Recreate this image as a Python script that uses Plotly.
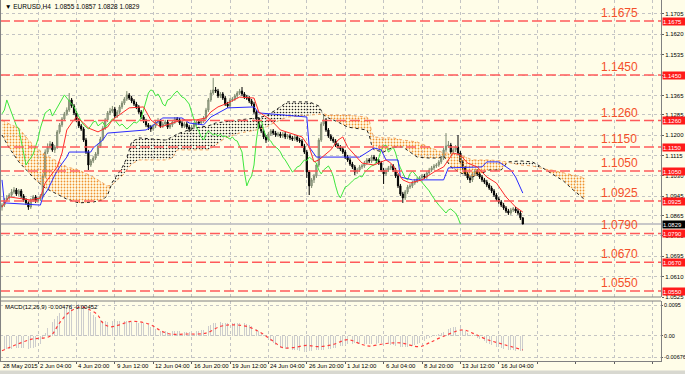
import plotly.graph_objects as go

# ---------------- DATA ----------------
opens = [1.0900, 1.0908, 1.0929, 1.0938, 1.0950, 1.0963, 1.0971, 1.0954, 1.0967, 1.0946,
         1.0929, 1.0917, 1.0900, 1.0929, 1.0942, 1.0925, 1.0933, 1.0946, 1.1029, 1.1129,
         1.1150, 1.1163, 1.1138, 1.1150, 1.1213, 1.1242, 1.1267, 1.1288, 1.1304, 1.1346,
         1.1321, 1.1292, 1.1263, 1.1238, 1.1225, 1.1179, 1.1129, 1.1075, 1.1092, 1.1104,
         1.1121, 1.1154, 1.1183, 1.1229, 1.1263, 1.1292, 1.1300, 1.1308, 1.1279, 1.1296,
         1.1317, 1.1333, 1.1350, 1.1367, 1.1354, 1.1342, 1.1329, 1.1317, 1.1296, 1.1275,
         1.1258, 1.1242, 1.1233, 1.1225, 1.1238, 1.1254, 1.1258, 1.1238, 1.1246, 1.1254,
         1.1233, 1.1242, 1.1254, 1.1267, 1.1263, 1.1250, 1.1238, 1.1246, 1.1233, 1.1225,
         1.1233, 1.1246, 1.1254, 1.1250, 1.1258, 1.1271, 1.1304, 1.1346, 1.1375, 1.1388,
         1.1383, 1.1363, 1.1371, 1.1354, 1.1329, 1.1321, 1.1346, 1.1350, 1.1363, 1.1375,
         1.1383, 1.1371, 1.1358, 1.1354, 1.1342, 1.1329, 1.1296, 1.1267, 1.1233, 1.1217,
         1.1192, 1.1179, 1.1204, 1.1217, 1.1208, 1.1200, 1.1204, 1.1196, 1.1204, 1.1192,
         1.1196, 1.1188, 1.1183, 1.1192, 1.1179, 1.1175, 1.1154, 1.1129, 1.1046, 1.0988,
         1.1013, 1.1029, 1.1075, 1.1179, 1.1246, 1.1263, 1.1221, 1.1196, 1.1183, 1.1175,
         1.1158, 1.1150, 1.1142, 1.1129, 1.1108, 1.1096, 1.1079, 1.1067, 1.1046, 1.1054,
         1.1067, 1.1071, 1.1083, 1.1096, 1.1092, 1.1108, 1.1100, 1.1092, 1.1083, 1.1054,
         1.1038, 1.1054, 1.1063, 1.1071, 1.1054, 1.1029, 1.0988, 1.0954, 1.0938, 1.0963,
         1.0983, 1.0988, 1.1000, 1.1008, 1.1017, 1.1021, 1.1029, 1.1025, 1.1042, 1.1054,
         1.1063, 1.1071, 1.1075, 1.1088, 1.1104, 1.1138, 1.1154, 1.1158, 1.1129, 1.1138,
         1.1150, 1.1125, 1.1088, 1.1063, 1.1038, 1.1021, 1.1013, 1.1038, 1.1050, 1.1038,
         1.1025, 1.1013, 1.1004, 1.0992, 1.0979, 1.0967, 1.0950, 1.0933, 1.0921, 1.0908,
         1.0896, 1.0883, 1.0875, 1.0888, 1.0892, 1.0883, 1.0875, 1.0855]

highs = [1.0916, 1.0937, 1.0950, 1.0958, 1.0975, 1.0983, 1.0979, 1.0975, 1.0975, 1.0954,
         1.0937, 1.0925, 1.0937, 1.0950, 1.0950, 1.0941, 1.0954, 1.1040, 1.1140, 1.1165,
         1.1175, 1.1171, 1.1158, 1.1221, 1.1250, 1.1275, 1.1296, 1.1315, 1.1375, 1.1354,
         1.1329, 1.1300, 1.1271, 1.1246, 1.1233, 1.1188, 1.1138, 1.1100, 1.1113, 1.1129,
         1.1163, 1.1192, 1.1238, 1.1271, 1.1300, 1.1313, 1.1321, 1.1317, 1.1304, 1.1325,
         1.1342, 1.1358, 1.1383, 1.1375, 1.1363, 1.1350, 1.1338, 1.1325, 1.1304, 1.1283,
         1.1267, 1.1250, 1.1242, 1.1246, 1.1263, 1.1271, 1.1267, 1.1254, 1.1263, 1.1263,
         1.1250, 1.1263, 1.1275, 1.1275, 1.1271, 1.1258, 1.1254, 1.1254, 1.1242, 1.1242,
         1.1254, 1.1263, 1.1263, 1.1267, 1.1279, 1.1313, 1.1354, 1.1388, 1.1438, 1.1400,
         1.1392, 1.1379, 1.1379, 1.1363, 1.1338, 1.1354, 1.1358, 1.1371, 1.1383, 1.1392,
         1.1400, 1.1379, 1.1367, 1.1363, 1.1350, 1.1338, 1.1304, 1.1275, 1.1242, 1.1225,
         1.1200, 1.1213, 1.1225, 1.1225, 1.1217, 1.1213, 1.1213, 1.1213, 1.1213, 1.1204,
         1.1204, 1.1196, 1.1200, 1.1200, 1.1188, 1.1183, 1.1163, 1.1138, 1.1054, 1.1021,
         1.1038, 1.1083, 1.1188, 1.1254, 1.1283, 1.1271, 1.1229, 1.1204, 1.1192, 1.1183,
         1.1167, 1.1158, 1.1150, 1.1138, 1.1117, 1.1104, 1.1088, 1.1075, 1.1063, 1.1075,
         1.1079, 1.1092, 1.1104, 1.1104, 1.1117, 1.1117, 1.1108, 1.1100, 1.1092, 1.1063,
         1.1063, 1.1071, 1.1079, 1.1079, 1.1063, 1.1038, 1.0996, 1.0963, 1.0971, 1.0992,
         1.0996, 1.1008, 1.1017, 1.1025, 1.1029, 1.1038, 1.1038, 1.1050, 1.1063, 1.1071,
         1.1079, 1.1083, 1.1096, 1.1113, 1.1146, 1.1208, 1.1175, 1.1167, 1.1146, 1.1158,
         1.1200, 1.1133, 1.1096, 1.1071, 1.1046, 1.1029, 1.1046, 1.1058, 1.1058, 1.1046,
         1.1033, 1.1021, 1.1013, 1.1000, 1.0988, 1.0975, 1.0958, 1.0942, 1.0929, 1.0917,
         1.0904, 1.0892, 1.0896, 1.0900, 1.0900, 1.0892, 1.0883, 1.0857]

lows = [1.0885, 1.0900, 1.0921, 1.0930, 1.0942, 1.0955, 1.0946, 1.0946, 1.0938, 1.0921,
        1.0909, 1.0888, 1.0892, 1.0921, 1.0917, 1.0917, 1.0925, 1.0938, 1.1021, 1.1121,
        1.1140, 1.1130, 1.1125, 1.1142, 1.1205, 1.1233, 1.1258, 1.1280, 1.1296, 1.1313,
        1.1283, 1.1254, 1.1229, 1.1217, 1.1171, 1.1121, 1.1054, 1.1067, 1.1083, 1.1096,
        1.1113, 1.1146, 1.1175, 1.1221, 1.1254, 1.1283, 1.1292, 1.1271, 1.1271, 1.1288,
        1.1308, 1.1325, 1.1342, 1.1346, 1.1333, 1.1321, 1.1308, 1.1288, 1.1267, 1.1250,
        1.1233, 1.1221, 1.1213, 1.1217, 1.1229, 1.1246, 1.1229, 1.1229, 1.1238, 1.1225,
        1.1225, 1.1233, 1.1246, 1.1254, 1.1242, 1.1229, 1.1229, 1.1225, 1.1213, 1.1217,
        1.1225, 1.1238, 1.1242, 1.1242, 1.1250, 1.1263, 1.1296, 1.1338, 1.1367, 1.1375,
        1.1354, 1.1354, 1.1346, 1.1321, 1.1313, 1.1313, 1.1338, 1.1342, 1.1354, 1.1367,
        1.1363, 1.1350, 1.1346, 1.1333, 1.1321, 1.1288, 1.1258, 1.1225, 1.1208, 1.1183,
        1.1167, 1.1171, 1.1196, 1.1200, 1.1192, 1.1192, 1.1188, 1.1188, 1.1183, 1.1183,
        1.1179, 1.1175, 1.1175, 1.1171, 1.1167, 1.1146, 1.1121, 1.1021, 1.0950, 1.0979,
        1.1000, 1.1021, 1.1067, 1.1171, 1.1238, 1.1213, 1.1188, 1.1175, 1.1167, 1.1150,
        1.1142, 1.1133, 1.1121, 1.1100, 1.1088, 1.1071, 1.1058, 1.1033, 1.1038, 1.1046,
        1.1058, 1.1063, 1.1075, 1.1083, 1.1083, 1.1092, 1.1083, 1.1075, 1.1046, 1.0996,
        1.1029, 1.1046, 1.1054, 1.1046, 1.1021, 1.0979, 1.0946, 1.0917, 1.0929, 1.0954,
        1.0975, 1.0979, 1.0992, 1.1000, 1.1008, 1.1013, 1.1017, 1.1017, 1.1033, 1.1046,
        1.1054, 1.1063, 1.1067, 1.1079, 1.1096, 1.1129, 1.1146, 1.1121, 1.1121, 1.1129,
        1.1117, 1.1079, 1.1054, 1.1029, 1.1013, 1.1000, 1.1004, 1.1029, 1.1029, 1.1017,
        1.1004, 1.0996, 1.0983, 1.0971, 1.0958, 1.0942, 1.0925, 1.0913, 1.0900, 1.0888,
        1.0875, 1.0867, 1.0867, 1.0879, 1.0875, 1.0867, 1.0846, 1.0828]

closes = [1.0908, 1.0929, 1.0938, 1.0950, 1.0963, 1.0971, 1.0954, 1.0967, 1.0946, 1.0929,
          1.0917, 1.0900, 1.0929, 1.0942, 1.0925, 1.0933, 1.0946, 1.1029, 1.1129, 1.1150,
          1.1163, 1.1138, 1.1150, 1.1213, 1.1242, 1.1267, 1.1288, 1.1304, 1.1346, 1.1321,
          1.1292, 1.1263, 1.1238, 1.1225, 1.1179, 1.1129, 1.1075, 1.1092, 1.1104, 1.1121,
          1.1154, 1.1183, 1.1229, 1.1263, 1.1292, 1.1300, 1.1308, 1.1279, 1.1296, 1.1317,
          1.1333, 1.1350, 1.1367, 1.1354, 1.1342, 1.1329, 1.1317, 1.1296, 1.1275, 1.1258,
          1.1242, 1.1233, 1.1225, 1.1238, 1.1254, 1.1258, 1.1238, 1.1246, 1.1254, 1.1233,
          1.1242, 1.1254, 1.1267, 1.1263, 1.1250, 1.1238, 1.1246, 1.1233, 1.1225, 1.1233,
          1.1246, 1.1254, 1.1250, 1.1258, 1.1271, 1.1304, 1.1346, 1.1375, 1.1388, 1.1383,
          1.1363, 1.1371, 1.1354, 1.1329, 1.1321, 1.1346, 1.1350, 1.1363, 1.1375, 1.1383,
          1.1371, 1.1358, 1.1354, 1.1342, 1.1329, 1.1296, 1.1267, 1.1233, 1.1217, 1.1192,
          1.1179, 1.1204, 1.1217, 1.1208, 1.1200, 1.1204, 1.1196, 1.1204, 1.1192, 1.1196,
          1.1188, 1.1183, 1.1192, 1.1179, 1.1175, 1.1154, 1.1129, 1.1046, 1.0988, 1.1013,
          1.1029, 1.1075, 1.1179, 1.1246, 1.1263, 1.1221, 1.1196, 1.1183, 1.1175, 1.1158,
          1.1150, 1.1142, 1.1129, 1.1108, 1.1096, 1.1079, 1.1067, 1.1046, 1.1054, 1.1067,
          1.1071, 1.1083, 1.1096, 1.1092, 1.1108, 1.1100, 1.1092, 1.1083, 1.1054, 1.1038,
          1.1054, 1.1063, 1.1071, 1.1054, 1.1029, 1.0988, 1.0954, 1.0938, 1.0963, 1.0983,
          1.0988, 1.1000, 1.1008, 1.1017, 1.1021, 1.1029, 1.1025, 1.1042, 1.1054, 1.1063,
          1.1071, 1.1075, 1.1088, 1.1104, 1.1138, 1.1154, 1.1158, 1.1129, 1.1138, 1.1150,
          1.1125, 1.1088, 1.1063, 1.1038, 1.1021, 1.1013, 1.1038, 1.1050, 1.1038, 1.1025,
          1.1013, 1.1004, 1.0992, 1.0979, 1.0967, 1.0950, 1.0933, 1.0921, 1.0908, 1.0896,
          1.0883, 1.0875, 1.0888, 1.0892, 1.0883, 1.0875, 1.0855, 1.0829]

# Ichimoku lines (bar index, price)
tenkan_x = [0, 3, 12, 16, 18, 19, 23, 25, 27, 29, 31, 34, 36, 40, 44, 46, 50, 53, 59, 62,
            66, 71, 75, 81, 85, 87, 90, 94, 99, 105, 107, 112, 116, 120, 125, 128, 130, 132,
            137, 140, 142, 144, 148, 150, 155, 157, 160, 162, 167, 170, 175, 180, 184, 186,
            188, 191, 194, 198, 202, 206, 210, 214, 217]
tenkan_y = [1.0900, 1.0942, 1.0929, 1.0938, 1.1000, 1.1013, 1.1067, 1.1125, 1.1221, 1.1250,
            1.1275, 1.1250, 1.1229, 1.1213, 1.1233, 1.1263, 1.1292, 1.1313, 1.1317, 1.1263,
            1.1233, 1.1250, 1.1263, 1.1263, 1.1271, 1.1296, 1.1317, 1.1333, 1.1358, 1.1354,
            1.1296, 1.1263, 1.1221, 1.1208, 1.1192, 1.1150, 1.1088, 1.1096, 1.1138, 1.1179,
            1.1192, 1.1150, 1.1108, 1.1083, 1.1075, 1.1083, 1.1096, 1.1083, 1.1013, 1.1000,
            1.1013, 1.1046, 1.1067, 1.1096, 1.1125, 1.1117, 1.1083, 1.1067, 1.1025, 1.1000,
            1.0942, 1.0900, 1.0879]

kijun_x = [0, 1, 16, 17, 19, 22, 24, 27, 28, 37, 38, 42, 44, 52, 60, 62, 67, 75, 78, 84,
           87, 94, 105, 107, 127, 128, 131, 149, 155, 158, 160, 165, 166, 171, 184, 186,
           200, 202, 207, 212, 214, 217]
kijun_y = [1.1013, 1.0917, 1.0908, 1.0942, 1.0971, 1.1033, 1.1067, 1.1108, 1.1129, 1.1129,
           1.1146, 1.1179, 1.1208, 1.1213, 1.1221, 1.1233, 1.1271, 1.1271, 1.1250, 1.1242,
           1.1275, 1.1313, 1.1317, 1.1292, 1.1275, 1.1150, 1.1108, 1.1108, 1.1146, 1.1138,
           1.1096, 1.1096, 1.1025, 1.1013, 1.1013, 1.1063, 1.1067, 1.1088, 1.1088, 1.1054,
           1.1025, 1.0958]

chikou_shift = 26

cloud_x = [0, 3, 7, 11, 14, 18, 22, 27, 32, 38, 42, 44, 46, 48, 50, 52, 54, 57, 62, 68,
           71, 73, 80, 86, 89, 93, 99, 106, 110, 114, 119, 128, 132, 134, 136, 140, 144,
           152, 153, 154, 155, 159, 163, 167, 173, 178, 182, 184, 187, 191, 196, 203, 208,
           210, 211, 216, 221, 224, 226, 229, 234, 238, 243]
span_a = [1.1263, 1.1246, 1.1229, 1.1179, 1.1150, 1.1117, 1.1096, 1.1067, 1.1054, 1.1025,
          1.1000, 1.0988, 1.0992, 1.1013, 1.1029, 1.1054, 1.1079, 1.1096, 1.1096, 1.1096,
          1.1104, 1.1138, 1.1138, 1.1138, 1.1158, 1.1188, 1.1208, 1.1221, 1.1233, 1.1254,
          1.1275, 1.1283, 1.1288, 1.1288, 1.1283, 1.1283, 1.1283, 1.1275, 1.1263, 1.1213,
          1.1192, 1.1188, 1.1188, 1.1179, 1.1171, 1.1150, 1.1133, 1.1125, 1.1125, 1.1117,
          1.1096, 1.1096, 1.1092, 1.1088, 1.1083, 1.1075, 1.1071, 1.1063, 1.1058, 1.1054,
          1.1042, 1.1033, 1.1021]
span_b = [1.1200, 1.1146, 1.1088, 1.1046, 1.1013, 1.0979, 1.0958, 1.0933, 1.0917, 1.0921,
          1.0929, 1.0950, 1.1004, 1.1033, 1.1063, 1.1104, 1.1171, 1.1188, 1.1183, 1.1179,
          1.1192, 1.1204, 1.1229, 1.1238, 1.1250, 1.1254, 1.1263, 1.1271, 1.1279, 1.1304,
          1.1338, 1.1338, 1.1321, 1.1283, 1.1271, 1.1254, 1.1233, 1.1221, 1.1200, 1.1158,
          1.1138, 1.1129, 1.1150, 1.1150, 1.1108, 1.1104, 1.1104, 1.1113, 1.1067, 1.1042,
          1.1025, 1.1054, 1.1054, 1.1079, 1.1088, 1.1092, 1.1088, 1.1071, 1.1058, 1.1042,
          1.1008, 1.0971, 1.0929]

# horizontal levels
levels = [1.1675, 1.1450, 1.1260, 1.1150, 1.1050, 1.0925, 1.0790, 1.0670, 1.0550]
level_text = ["1.1675", "1.1450", "1.1260", "1.1150", "1.1050", "1.0925", "1.0790", "1.0670", "1.0550"]
bid_price = 1.0829

# price axis ticks
price_ticks = [1.1705, 1.1620, 1.1535, 1.1450, 1.1365, 1.1285, 1.1200, 1.1115, 1.1030,
               1.0945, 1.0865, 1.0780, 1.0695, 1.0610, 1.0525]
price_tick_text = ["1.1705", "1.1620", "1.1535", "1.1450", "1.1365", "1.1285", "1.1200",
                   "1.1115", "1.1030", "1.0945", "1.0865", "1.0780", "1.0695", "1.0610", "1.0525"]

# time axis labels (bar index of tick)
time_tick_idx = [-1, 15, 31, 47, 63, 79, 95, 111, 127, 143, 159, 175, 191, 207]
time_tick_text = ["28 May 2015", "2 Jun 04:00", "4 Jun 20:00", "9 Jun 12:00", "12 Jun 04:00",
                  "16 Jun 20:00", "19 Jun 12:00", "24 Jun 04:00", "26 Jun 20:00", "1 Jul 12:00",
                  "6 Jul 04:00", "8 Jul 20:00", "13 Jul 12:00", "16 Jul 04:00"]
grid_extra_idx = [223, 239, 255, 271]

# MACD
macd_main = [-0.0044, -0.0043, -0.0043, -0.0042, -0.0041, -0.0040, -0.0040, -0.0039, -0.0039, -0.0040,
             -0.0041, -0.0042, -0.0040, -0.0038, -0.0036,
             -0.0032, -0.0026, -0.0012, 0.0008, 0.0025, 0.0035, 0.0042, 0.0052, 0.0062, 0.0070,
             0.0078, 0.0085, 0.0091, 0.0097, 0.0100, 0.0101, 0.0101, 0.0099, 0.0096, 0.0092,
             0.0086, 0.0080, 0.0073, 0.0066, 0.0060, 0.0055, 0.0050, 0.0047, 0.0045, 0.0044,
             0.0044, 0.0045, 0.0044, 0.0045, 0.0046, 0.0047, 0.0047, 0.0046, 0.0045, 0.0044,
             0.0043, 0.0042, 0.0041, 0.0040, 0.0039, 0.0036,
             0.0032, 0.0028, 0.0024, 0.0020, 0.0017,
             0.0015, 0.0014, 0.0013, 0.0012, 0.0012, 0.0013, 0.0014, 0.0015, 0.0014, 0.0013,
             0.0012, 0.0011, 0.0012, 0.0013, 0.0014, 0.0015, 0.0016, 0.0017, 0.0019,
             0.0024, 0.0030, 0.0035, 0.0039,
             0.0041, 0.0042, 0.0042, 0.0041, 0.0040, 0.0039, 0.0038, 0.0039, 0.0040, 0.0041,
             0.0041, 0.0040, 0.0039, 0.0037, 0.0034,
             0.0030, 0.0026, 0.0021, 0.0015, 0.0009, 0.0003, -0.0004, -0.0011, -0.0018, -0.0024,
             -0.0030, -0.0035,
             -0.0038, -0.0040, -0.0042, -0.0043, -0.0044, -0.0045, -0.0046, -0.0047, -0.0048, -0.0050,
             -0.0051, -0.0050, -0.0049, -0.0048, -0.0047, -0.0046, -0.0045, -0.0045, -0.0044, -0.0043,
             -0.0042, -0.0041, -0.0040, -0.0038, -0.0036,
             -0.0034, -0.0032, -0.0030, -0.0028, -0.0026, -0.0025, -0.0024, -0.0024, -0.0025, -0.0026,
             -0.0027, -0.0028, -0.0028, -0.0027, -0.0026, -0.0025, -0.0024, -0.0024, -0.0025, -0.0026,
             -0.0028, -0.0030, -0.0031,
             -0.0033, -0.0035, -0.0036, -0.0037, -0.0037, -0.0036, -0.0035, -0.0033, -0.0031,
             -0.0028, -0.0024, -0.0020, -0.0016, -0.0012, -0.0008, -0.0004, -0.0001, 0.0002, 0.0005,
             0.0008, 0.0012, 0.0016, 0.0020, 0.0023, 0.0026, 0.0027, 0.0026, 0.0023, 0.0019,
             0.0014, 0.0009, 0.0005, 0.0002, -0.0002, -0.0006, -0.0010, -0.0014, -0.0018, -0.0022,
             -0.0026, -0.0029, -0.0032, -0.0035, -0.0037, -0.0039, -0.0041, -0.0043, -0.0045, -0.0046,
             -0.0047, -0.0048, -0.0048, -0.0048, -0.00476]

signal_x = [0, 12, 20, 24, 28, 33, 37, 40, 42, 45, 49, 53, 57, 62, 66, 70, 77, 85, 91, 96,
            102, 107, 112, 117, 121, 127, 132, 138, 144, 150, 153, 160, 166, 174, 178, 184,
            192, 196, 202, 209, 217]
signal_y = [-0.0048, -0.0012, -0.0002, 0.0040, 0.0074, 0.0090, 0.0080, 0.0064, 0.0040, 0.0028,
            0.0034, 0.0044, 0.0044, 0.0034, 0.0016, 0.0005, 0.0005, 0.0008, 0.0029, 0.0034,
            0.0029, 0.0013, -0.0012, -0.0038, -0.0038, -0.0031, -0.0035, -0.0028, -0.0013, -0.0028,
            -0.0033, -0.0025, -0.0023, -0.0035, -0.0023, -0.0002, 0.0018, 0.0008, -0.0012, -0.0028,
            -0.0045]
macd_ticks = [0.0095, 0.0, -0.00676]
macd_tick_text = ["0.0095", "0.00", "-0.00676"]

n = len(closes)
assert len(opens) == n and len(highs) == n and len(lows) == n and len(macd_main) == n, \
    (len(opens), len(highs), len(lows), len(closes), len(macd_main))
assert len(tenkan_x) == len(tenkan_y) and len(kijun_x) == len(kijun_y)
assert len(cloud_x) == len(span_a) == len(span_b)
assert len(signal_x) == len(signal_y)

# ---------------- GEOMETRY ----------------
W, H = 685, 374
ML, MR, MT, MB = 0, 24, 0, 13
PH = H - MT - MB            # plot-area height (361)
PW = W - ML - MR            # 661
BAR_PX = 2.4
X0_PX = 2.0


def px_to_idx(px):
    return (px - X0_PX) / BAR_PX


def py_to_paper(py):
    return (PH - py) / PH


x_range = [px_to_idx(0), px_to_idx(PW)]
main_top, main_bot = 0, 297
macd_top, macd_bot = 301, 361
y_range = [1.17625 - main_bot / 2400.0, 1.17625]
macd_scale = 3167.0
macd_zero_px = 335.6
y2_range = [-(macd_bot - macd_zero_px) / macd_scale, (macd_zero_px - macd_top) / macd_scale]

BG = "#fffde8"
GRID = "#c4c4c4"
FONT = "Liberation Sans"
bars = list(range(n))

fig = go.Figure()

# ---------------- CLOUD ----------------
X, A, B = [cloud_x[0]], [span_a[0]], [span_b[0]]
for k in range(1, len(cloud_x)):
    d0 = span_a[k - 1] - span_b[k - 1]
    d1 = span_a[k] - span_b[k]
    if d0 * d1 < 0:
        t = d0 / (d0 - d1)
        xc = cloud_x[k - 1] + t * (cloud_x[k] - cloud_x[k - 1])
        yc = span_a[k - 1] + t * (span_a[k] - span_a[k - 1])
        X.append(xc); A.append(yc); B.append(yc)
    X.append(cloud_x[k]); A.append(span_a[k]); B.append(span_b[k])
TOP = [max(p, q) for p, q in zip(A, B)]

common = dict(xaxis="x2", yaxis="y", mode="lines", hoverinfo="skip", showlegend=False)
fig.add_trace(go.Scatter(x=X, y=B, line=dict(width=0, color="rgba(0,0,0,0)"), **common))
fig.add_trace(go.Scatter(x=X, y=TOP, line=dict(width=0, color="rgba(0,0,0,0)"), fill="tonexty",
                         fillcolor="rgba(0,0,0,0)",
                         fillpattern=dict(shape=".", fgcolor="#f0922e", bgcolor="rgba(0,0,0,0)",
                                          size=3, solidity=0.28, fillmode="replace"), **common))
fig.add_trace(go.Scatter(x=X, y=A, line=dict(width=0, color="rgba(0,0,0,0)"), **common))
fig.add_trace(go.Scatter(x=X, y=TOP, line=dict(width=0, color="rgba(0,0,0,0)"), fill="tonexty",
                         fillcolor="rgba(0,0,0,0)",
                         fillpattern=dict(shape=".", fgcolor="#222222", bgcolor="rgba(0,0,0,0)",
                                          size=3, solidity=0.22, fillmode="replace"), **common))
fig.add_trace(go.Scatter(x=cloud_x, y=span_a, line=dict(width=1, color="#f4a460", dash="dot"), **common))
fig.add_trace(go.Scatter(x=cloud_x, y=span_b, line=dict(width=1, color="#202020", dash="dot"), **common))

# ---------------- INDICATOR LINES ----------------
fig.add_trace(go.Scatter(x=bars[:n - chikou_shift], y=closes[chikou_shift:],
                         line=dict(width=1, color="#3ee63e"), **common))
fig.add_trace(go.Scatter(x=kijun_x, y=kijun_y, line=dict(width=1, color="#2a2aff"), **common))
fig.add_trace(go.Scatter(x=tenkan_x, y=tenkan_y, line=dict(width=1, color="#ff2a2a"), **common))

# ---------------- CANDLES ----------------
fig.add_trace(go.Candlestick(
    x=bars, open=opens, high=highs, low=lows, close=closes,
    xaxis="x2", yaxis="y", whiskerwidth=0, hoverinfo="skip", showlegend=False,
    increasing=dict(line=dict(color="#7f8a70", width=1), fillcolor="#b9c0ab"),
    decreasing=dict(line=dict(color="#000000", width=1), fillcolor="#000000"),
))

# ---------------- MACD ----------------
fig.add_trace(go.Bar(x=bars, y=macd_main, width=0.4, marker=dict(color="#cdcdcd", line=dict(width=0)),
                     xaxis="x", yaxis="y2", hoverinfo="skip", showlegend=False))
fig.add_trace(go.Scatter(x=signal_x, y=signal_y, mode="lines",
                         line=dict(color="#ff3b3b", width=1.2, dash="dot", shape="spline"),
                         xaxis="x", yaxis="y2", hoverinfo="skip", showlegend=False))

# ---------------- SHAPES ----------------
shapes = []
for lv in levels:
    shapes.append(dict(type="line", xref="paper", yref="y", x0=0, x1=1, y0=lv, y1=lv,
                       line=dict(color="#ff5a5a", width=1.5, dash="10px,4px"), layer="above"))
shapes.append(dict(type="line", xref="paper", yref="y", x0=0, x1=1, y0=bid_price, y1=bid_price,
                   line=dict(color="#c8c8c8", width=2), layer="below"))
# panel borders
for py in (main_bot, macd_top):
    shapes.append(dict(type="line", xref="paper", yref="paper", x0=0, x1=1,
                       y0=py_to_paper(py), y1=py_to_paper(py), line=dict(color="#808080", width=1)))
shapes.append(dict(type="line", xref="paper", yref="paper", x0=0.0008, x1=0.0008, y0=0, y1=1,
                   line=dict(color="#808080", width=1)))
# bottom tab strip
shapes.append(dict(type="rect", xref="paper", yref="paper", x0=-0.01, x1=1.05,
                   y0=py_to_paper(374), y1=py_to_paper(370.5),
                   fillcolor="#d8d8d0", line=dict(width=0)))

# ---------------- ANNOTATIONS ----------------
ann = []
label_x = px_to_idx(619)
for lv, txt in zip(levels, level_text):
    ann.append(dict(xref="x2", yref="y", x=label_x, y=lv, yshift=8, text=txt, showarrow=False,
                    font=dict(family=FONT, size=12, color="#f4502a"), xanchor="center", yanchor="middle"))
    ann.append(dict(xref="paper", yref="y", x=1.0 + 1.0 / PW, y=lv, text=txt, showarrow=False,
                    font=dict(family=FONT, size=6, color="white"), bgcolor="#ff1a1a",
                    xanchor="left", yanchor="middle", width=22, height=7, borderpad=0, align="left"))
ann.append(dict(xref="paper", yref="y", x=1.0 + 1.0 / PW, y=bid_price, text="1.0829", showarrow=False,
                font=dict(family=FONT, size=6, color="white"), bgcolor="#000000",
                xanchor="left", yanchor="middle", width=22, height=7, borderpad=0, align="left"))

for idx, txt in zip(time_tick_idx, time_tick_text):
    ann.append(dict(xref="x", yref="paper", x=max(idx, x_range[0] + 0.3), y=0, yshift=-5, text=txt,
                    showarrow=False, font=dict(family=FONT, size=6, color="black"),
                    xanchor="left", yanchor="middle"))

ann.append(dict(xref="paper", yref="paper", x=0.004, y=1, yshift=-1, showarrow=False,
                text="\u25BC EURUSD,H4  1.0855 1.0857 1.0828 1.0829",
                font=dict(family=FONT, size=6.5, color="black"), xanchor="left", yanchor="top"))
ann.append(dict(xref="paper", yref="paper", x=0.004, y=py_to_paper(macd_top), yshift=-1, showarrow=False,
                text="MACD(12,26,9) -0.00476 -0.00452",
                font=dict(family=FONT, size=6, color="black"), xanchor="left", yanchor="top"))

all_grid_idx = time_tick_idx[1:] + grid_extra_idx

fig.update_layout(
    template="none",
    width=W, height=H,
    margin=dict(l=ML, r=MR, t=MT, b=MB, pad=0, autoexpand=False),
    paper_bgcolor=BG, plot_bgcolor=BG,
    showlegend=False, hovermode=False,
    bargap=0,
    xaxis=dict(domain=[0, 1], anchor="y2", range=x_range, tickmode="array", tickvals=all_grid_idx,
               showticklabels=False, ticks="outside", ticklen=2, tickcolor="#606060",
               showgrid=True, gridcolor=GRID, griddash="dot", gridwidth=1, zeroline=False,
               showline=True, linecolor="#808080", linewidth=1, rangeslider=dict(visible=False),
               fixedrange=True, automargin=False),
    xaxis2=dict(domain=[0, 1], anchor="y", matches="x", range=x_range, tickmode="array",
                tickvals=all_grid_idx, showticklabels=False, ticks="",
                showgrid=True, gridcolor=GRID, griddash="dot", gridwidth=1, zeroline=False,
                showline=False, rangeslider=dict(visible=False), fixedrange=True, automargin=False),
    yaxis=dict(domain=[py_to_paper(main_bot), 1], anchor="x2", side="right", range=y_range,
               tickmode="array", tickvals=price_ticks, ticktext=price_tick_text,
               tickfont=dict(family=FONT, size=6, color="black"), ticks="outside", ticklen=2,
               ticklabelstandoff=0,
               tickcolor="#606060", showgrid=True, gridcolor=GRID, griddash="dot", gridwidth=1,
               zeroline=False, showline=True, linecolor="#808080", linewidth=1, fixedrange=True,
               automargin=False),
    yaxis2=dict(domain=[0, py_to_paper(macd_top)], anchor="x", side="right", range=y2_range,
                tickmode="array", tickvals=macd_ticks, ticktext=macd_tick_text,
                tickfont=dict(family=FONT, size=5.5, color="black"), ticks="outside", ticklen=1,
                ticklabelstandoff=0,
                tickcolor="#606060", showgrid=True, gridcolor=GRID, griddash="dot", gridwidth=1,
                zeroline=False, showline=True, linecolor="#808080", linewidth=1, fixedrange=True,
                automargin=False),
    shapes=shapes,
    annotations=ann,
)

fig.write_html("out.html", config={"displayModeBar": False, "staticPlot": True},
               post_script="document.body.style.margin='0';document.body.style.padding='0';"
                           "document.body.style.background='" + BG + "';")
